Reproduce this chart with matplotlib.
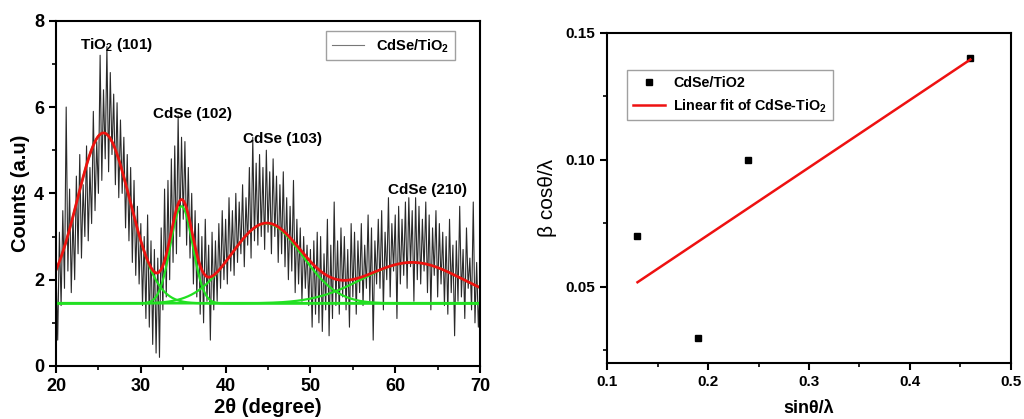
import numpy as np
import matplotlib
matplotlib.use("Agg")
import matplotlib.pyplot as plt
from matplotlib.ticker import MultipleLocator, FormatStrFormatter

plt.rcParams["font.family"] = ["Liberation Sans", "DejaVu Sans"]
plt.rcParams["mathtext.fontset"] = "custom"
plt.rcParams["mathtext.rm"] = "Liberation Sans"
plt.rcParams["mathtext.bf"] = "Liberation Sans:bold"

# --- XRD raw trace, every 0.2 deg from 20 to 70 ---
two_theta = np.round(np.arange(20, 70.001, 0.2), 2)
counts = [
    2.3, 0.6, 3.1, 1.4, 3.6,  1.8, 6.0, 2.2, 4.1, 1.7,
    3.5, 2.0, 4.4, 2.6, 4.9,  2.5, 4.2, 3.0, 5.1, 2.9,
    4.6, 3.3, 5.9, 3.6, 5.2,  4.0, 7.2, 4.3, 6.4, 4.8,
    7.4, 4.5, 6.8, 4.9, 6.3,  4.2, 6.1, 3.9, 5.7, 4.0,
    5.3, 3.2, 4.9, 2.9, 4.6,  2.4, 4.3, 2.1, 3.7, 1.9,
    3.3, 1.4, 3.0, 1.1, 3.5,  0.9, 2.9, 0.5, 2.7, 0.3,
    2.5, 0.2, 3.2, 1.3, 4.1,  1.6, 4.3, 2.0, 4.8, 2.4,
    5.1, 2.6, 5.8, 3.0, 5.3,  3.4, 5.2, 2.8, 4.6, 2.5,
    4.0, 1.9, 3.6, 1.6, 3.3,  1.2, 3.0, 1.0, 3.4, 1.5,
    2.8, 0.6, 3.1, 1.3, 2.9,  1.5, 3.3, 1.8, 3.6, 2.0,
    3.4, 1.9, 3.9, 2.2, 3.6,  2.1, 4.0, 2.4, 3.8, 2.6,
    4.2, 2.3, 3.9, 2.8, 4.6,  2.5, 5.3, 2.9, 4.7, 2.8,
    4.9, 3.0, 4.6, 2.7, 5.0,  3.1, 4.5, 2.6, 4.8, 3.0,
    4.4, 2.4, 4.2, 2.6, 4.5,  2.3, 3.9, 2.0, 3.7, 2.2,
    4.3, 1.7, 3.4, 1.9, 3.2,  1.5, 3.0, 1.8, 2.8, 1.4,
    2.7, 0.9, 2.9, 1.2, 3.1,  1.0, 3.0, 0.8, 2.6, 1.3,
    3.4, 0.7, 2.8, 1.1, 3.8,  1.4, 2.9, 1.2, 3.2, 1.6,
    3.0, 1.3, 2.7, 0.9, 3.3,  1.6, 3.1, 1.2, 2.9, 1.7,
    3.3, 1.4, 2.8, 1.8, 3.5,  1.5, 3.2, 0.6, 2.9, 1.9,
    3.4, 1.8, 3.6, 1.3, 3.1,  2.0, 3.9, 1.6, 3.3, 2.2,
    3.5, 1.1, 3.7, 1.9, 3.4,  2.1, 3.8, 1.8, 3.9, 2.3,
    3.6, 1.5, 3.9, 2.0, 3.7,  1.9, 3.4, 2.2, 3.8, 1.7,
    3.5, 1.3, 3.2, 2.1, 3.6,  1.6, 3.3, 1.9, 3.1, 1.4,
    3.0, 1.2, 3.4, 1.7, 2.8,  0.7, 2.9, 1.5, 3.7, 1.6,
    2.7, 1.1, 3.2, 1.8, 2.5,  1.3, 3.8, 1.0, 2.4, 0.9,
    1.8,
]

# Gaussian peak fit parameters (baseline, centre, height, sigma)
baseline = 1.45
peak_centers = [25.6, 34.8, 44.8, 62.0]
peak_heights = [3.95, 2.25, 1.85, 0.95]
peak_sigmas = [3.1, 1.3, 4.2, 5.8]
peak_labels = [r"TiO$_\mathbf{2}$ (101)", "CdSe (102)", "CdSe (103)", "CdSe (210)"]
label_pos = [(22.8, 7.43), (31.4, 5.85), (42.0, 5.26), (59.2, 4.07)]

# --- Williamson-Hall data ---
sin_theta = [0.13, 0.19, 0.24, 0.46]
beta_cos = [0.07, 0.03, 0.10, 0.14]

fig = plt.figure(figsize=(10.24, 4.19), dpi=100)
ax1 = fig.add_axes([0.0547, 0.1265, 0.4141, 0.824])
ax2 = fig.add_axes([0.593, 0.1337, 0.394, 0.788])

xf = np.linspace(20, 70, 800)
ax1.plot(two_theta, counts, color="#2a2a2a", lw=0.8, label=r"CdSe/TiO$_\mathbf{2}$")
ax1.plot(xf, np.full_like(xf, baseline), color="#22e022", lw=1.6)
total = np.full_like(xf, baseline)
for c, h, s in zip(peak_centers, peak_heights, peak_sigmas):
    g = h * np.exp(-(xf - c) ** 2 / (2 * s ** 2))
    total += g
    ax1.plot(xf, baseline + g, color="#22e022", lw=1.6)
ax1.plot(xf, total, color="#ee1111", lw=2)
for txt, (tx, ty) in zip(peak_labels, label_pos):
    ax1.text(tx, ty, txt, fontsize=11, fontweight="bold", ha="left", va="center")

ax1.set_xlim(20, 70)
ax1.set_ylim(0, 8)
ax1.xaxis.set_major_locator(MultipleLocator(10))
ax1.xaxis.set_minor_locator(MultipleLocator(5))
ax1.yaxis.set_major_locator(MultipleLocator(2))
ax1.yaxis.set_minor_locator(MultipleLocator(1))
ax1.set_xlabel("2θ (degree)", fontsize=14.5, fontweight="bold", labelpad=2)
ax1.set_ylabel("Counts (a.u)", fontsize=14.5, fontweight="bold", labelpad=3)
leg1 = ax1.legend(loc="upper right", bbox_to_anchor=(0.94, 0.97), fancybox=False,
                  handlelength=2.2, borderaxespad=0, prop={"weight": "bold", "size": 10.5})
leg1.get_frame().set_edgecolor("#888888")
leg1.get_lines()[0].set_color("#777777")

ax2.plot(sin_theta, beta_cos, "s", color="black", ms=5, label="CdSe/TiO2")
slope, icpt = np.polyfit(sin_theta, beta_cos, 1)
xl = np.array([min(sin_theta), max(sin_theta)])
ax2.plot(xl, slope * xl + icpt, color="#ee1111", lw=1.8, label=r"Linear fit of CdSe-TiO$_\mathbf{2}$")
ax2.set_xlim(0.1, 0.5)
ax2.set_ylim(0.02, 0.15)
ax2.xaxis.set_major_locator(MultipleLocator(0.1))
ax2.xaxis.set_minor_locator(MultipleLocator(0.05))
ax2.yaxis.set_major_locator(MultipleLocator(0.05))
ax2.yaxis.set_minor_locator(MultipleLocator(0.025))
ax2.xaxis.set_major_formatter(FormatStrFormatter("%.1f"))
ax2.yaxis.set_major_formatter(FormatStrFormatter("%.2f"))
ax2.set_xlabel("sinθ/λ", fontsize=13, fontweight="bold", labelpad=8)
ax2.set_ylabel("β cosθ/λ", fontsize=15, labelpad=6)
leg2 = ax2.legend(loc="upper left", bbox_to_anchor=(0.05, 0.886), fancybox=False,
                  handlelength=2.2, borderaxespad=0, handletextpad=0.6,
                  prop={"weight": "bold", "size": 10.3})
leg2.get_frame().set_edgecolor("#888888")

for ax, lsize in ((ax1, 13), (ax2, 11)):
    for sp in ax.spines.values():
        sp.set_linewidth(1.5)
    ax.tick_params(which="major", direction="out", length=5, width=1.5, labelsize=lsize)
    ax.tick_params(which="minor", direction="out", length=3, width=1.2)
    for lab in ax.get_xticklabels() + ax.get_yticklabels():
        lab.set_fontweight("bold")

fig.savefig("out.png", dpi=100)
